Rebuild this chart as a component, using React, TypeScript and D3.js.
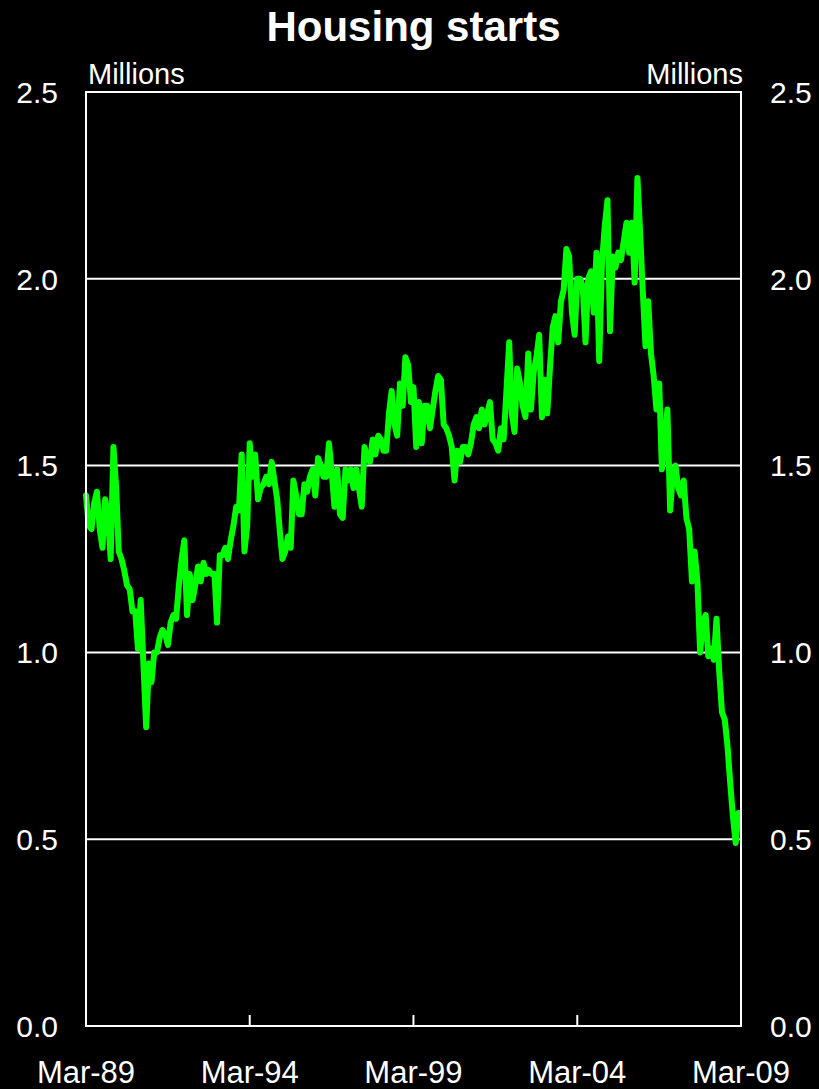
import React from "react";
import * as d3 from "d3";

// Monthly US housing starts, millions (SAAR), Mar-1989 .. Feb-2009
const startYear = 1989;
const startMonth = 2; // March (0-based)
const values1989 = [1.42, 1.34, 1.33, 1.40, 1.43, 1.33, 1.28, 1.41, 1.37, 1.25];
const values1990 = [1.55, 1.44, 1.27, 1.25, 1.22, 1.18, 1.17, 1.11, 1.11, 1.01, 1.14, 0.97];
const values1991 = [0.80, 0.97, 0.92, 1.00, 1.00, 1.04, 1.06, 1.05, 1.02, 1.08, 1.10, 1.09];
const values1992 = [1.18, 1.25, 1.30, 1.10, 1.21, 1.14, 1.18, 1.23, 1.19, 1.24, 1.21, 1.22];
const values1993 = [1.21, 1.21, 1.08, 1.26, 1.26, 1.28, 1.25, 1.30, 1.34, 1.39, 1.38, 1.53];
const values1994 = [1.27, 1.34, 1.56, 1.47, 1.53, 1.41, 1.44, 1.45, 1.47, 1.45, 1.51, 1.46];
const values1995 = [1.41, 1.32, 1.25, 1.27, 1.31, 1.28, 1.46, 1.42, 1.37, 1.37, 1.45, 1.43];
const values1996 = [1.47, 1.49, 1.42, 1.52, 1.50, 1.47, 1.47, 1.56, 1.48, 1.39, 1.49, 1.37];
const values1997 = [1.36, 1.49, 1.46, 1.49, 1.44, 1.49, 1.44, 1.39, 1.55, 1.52, 1.51, 1.57];
const values1998 = [1.53, 1.58, 1.57, 1.54, 1.54, 1.64, 1.70, 1.61, 1.58, 1.72, 1.66, 1.79];
const values1999 = [1.77, 1.67, 1.71, 1.55, 1.67, 1.56, 1.66, 1.66, 1.60, 1.65, 1.70, 1.74];
const values2000 = [1.73, 1.61, 1.60, 1.58, 1.55, 1.46, 1.54, 1.51, 1.55, 1.55, 1.53, 1.56];
const values2001 = [1.61, 1.63, 1.60, 1.65, 1.61, 1.64, 1.67, 1.57, 1.56, 1.54, 1.60, 1.57];
const values2002 = [1.70, 1.83, 1.64, 1.59, 1.76, 1.72, 1.66, 1.63, 1.80, 1.65, 1.75, 1.79];
const values2003 = [1.85, 1.63, 1.73, 1.64, 1.76, 1.87, 1.90, 1.83, 1.94, 1.97, 2.08, 2.06];
const values2004 = [1.91, 1.85, 2.00, 2.00, 1.98, 1.83, 2.00, 2.02, 1.91, 2.07, 1.78, 2.04];
const values2005 = [2.14, 2.21, 1.86, 2.06, 2.03, 2.07, 2.05, 2.10, 2.15, 2.07, 2.15, 1.99];
const values2006 = [2.27, 2.12, 1.97, 1.82, 1.94, 1.80, 1.74, 1.65, 1.72, 1.49, 1.57, 1.65];
const values2007 = [1.38, 1.48, 1.50, 1.44, 1.42, 1.46, 1.36, 1.33, 1.19, 1.27, 1.19, 1.00];
const values2008 = [1.08, 1.10, 0.99, 1.01, 0.98, 1.09, 0.95, 0.84, 0.82, 0.75, 0.65, 0.56];
const values2009 = [0.49, 0.57];

const allValues = [
  ...values1989, ...values1990, ...values1991, ...values1992, ...values1993,
  ...values1994, ...values1995, ...values1996, ...values1997, ...values1998,
  ...values1999, ...values2000, ...values2001, ...values2002, ...values2003,
  ...values2004, ...values2005, ...values2006, ...values2007, ...values2008,
  ...values2009,
];

const yTicks = [0, 0.5, 1.0, 1.5, 2.0, 2.5];
const gridValues = [0.5, 1.0, 1.5, 2.0];
const xTickDates = [
  new Date(1989, 2, 1), new Date(1994, 2, 1), new Date(1999, 2, 1),
  new Date(2004, 2, 1), new Date(2009, 2, 1),
];
const xTickLabels = ["Mar-89", "Mar-94", "Mar-99", "Mar-04", "Mar-09"];
const title = "Housing starts";
const unitLabel = "Millions";

const W = 819;
const H = 1089;
const left = 86;
const right = 741;
const top = 92;
const bottom = 1026;

export default function App() {
  const data = allValues.map((v, i) => ({
    date: new Date(startYear, startMonth + i, 1),
    value: v,
  }));
  const x = d3.scaleTime()
    .domain([new Date(1989, 2, 1), new Date(2009, 2, 1)])
    .range([left, right]);
  const y = d3.scaleLinear().domain([0, 2.5]).range([bottom, top]);
  const line = d3.line<{ date: Date; value: number }>()
    .x((d) => x(d.date))
    .y((d) => y(d.value));
  const font = "'Liberation Sans', Arial, sans-serif";

  return (
    <svg
      width={W}
      height={H}
      style={{ position: "absolute", left: 0, top: 0, display: "block" }}
      fontFamily={font}
    >
      <rect x={0} y={0} width={W} height={H} fill="#000" />
      <text x={(left + right) / 2} y={41} textAnchor="middle" fill="#fff" fontSize={42} fontWeight="bold">
        {title}
      </text>
      <text x={left + 2} y={84} fill="#fff" fontSize={29}>{unitLabel}</text>
      <text x={right + 2} y={84} fill="#fff" fontSize={29} textAnchor="end">{unitLabel}</text>

      {gridValues.map((g) => (
        <line key={g} x1={left} x2={right} y1={y(g)} y2={y(g)} stroke="#fff" strokeWidth={2} />
      ))}

      {yTicks.map((t) => (
        <g key={t}>
          <text x={58} y={y(t)} dy="0.36em" textAnchor="end" fill="#fff" fontSize={30}>
            {t.toFixed(1)}
          </text>
          <text x={770} y={y(t)} dy="0.36em" textAnchor="start" fill="#fff" fontSize={30}>
            {t.toFixed(1)}
          </text>
        </g>
      ))}

      <path d={line(data) || ""} fill="none" stroke="#00ff00" strokeWidth={6} strokeLinejoin="round" strokeLinecap="round" />

      <rect x={left} y={top} width={right - left} height={bottom - top} fill="none" stroke="#fff" strokeWidth={2} />

      {xTickDates.map((d, i) => (
        <g key={i}>
          <line x1={x(d)} x2={x(d)} y1={bottom} y2={bottom - 11} stroke="#fff" strokeWidth={2} />
          <text x={x(d)} y={1083} textAnchor="middle" fill="#fff" fontSize={31}>
            {xTickLabels[i]}
          </text>
        </g>
      ))}
    </svg>
  );
}
